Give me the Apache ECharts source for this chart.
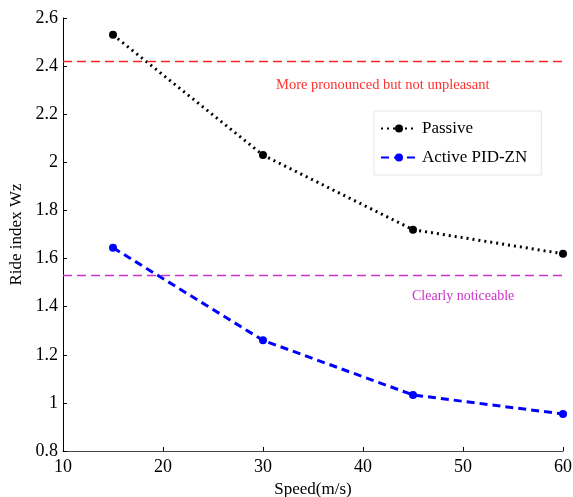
<!DOCTYPE html>
<html>
<head>
<meta charset="utf-8">
<script src="https://cdn.jsdelivr.net/npm/echarts@6/dist/echarts.min.js"></script>
<style>
  html, body { margin: 0; padding: 0; background: #fff; }
  #mychart { width: 573px; height: 497px; }
</style>
</head>
<body>
<div id="mychart"></div>
<script>
// data
var speeds = [15, 30, 45, 60]
var passive = [2.53, 2.03, 1.72, 1.62]
var activePid = [1.645, 1.26, 1.033, 0.954]
var limitPronounced = 2.42
var limitNoticeable = 1.53

var chartDom = document.getElementById('mychart')
var myChart = echarts.init(chartDom)
var font = 'Liberation Serif'

function pairs(xs, ys) {
  return xs.map(function (x, i) { return [x, ys[i]] })
}

var option = {
  animation: false,
  textStyle: { fontFamily: font },
  grid: { left: 63, right: 10, top: 18, bottom: 46, outerBoundsMode: 'none' },
  legend: {
    orient: 'vertical',
    left: 374,
    top: 111,
    width: 174,
    padding: [9, 14, 9, 6],
    itemGap: 12,
    itemWidth: 36,
    itemHeight: 10,
    borderColor: '#e6e6e6',
    borderWidth: 1,
    textStyle: { fontFamily: font, fontSize: 17, color: '#000' },
    data: ['Passive', 'Active PID-ZN']
  },
  xAxis: {
    type: 'value',
    min: 10,
    max: 60,
    interval: 10,
    name: 'Speed(m/s)',
    nameLocation: 'middle',
    nameGap: 30,
    nameTextStyle: { fontFamily: font, fontSize: 17, color: '#000' },
    axisLine: { lineStyle: { color: '#444', width: 1 } },
    axisTick: { inside: true, length: 4, lineStyle: { color: '#000' } },
    axisLabel: { fontFamily: font, fontSize: 18, color: '#000', margin: 7 },
    splitLine: { show: false }
  },
  yAxis: {
    type: 'value',
    min: 0.8,
    max: 2.6,
    interval: 0.2,
    name: 'Ride index Wz',
    nameLocation: 'middle',
    nameGap: 38,
    nameTextStyle: { fontFamily: font, fontSize: 17, color: '#000' },
    axisLine: { show: true, lineStyle: { color: '#000', width: 1 } },
    axisTick: { show: true, inside: true, length: 4, lineStyle: { color: '#000' } },
    axisLabel: {
      fontFamily: font, fontSize: 18, color: '#000', margin: 5,
      formatter: function (v) { return String(Math.round(v * 10) / 10) }
    },
    splitLine: { show: false }
  },
  series: [
    {
      name: 'Passive',
      type: 'line',
      data: pairs(speeds, passive),
      symbol: 'circle',
      symbolSize: 8,
      itemStyle: { color: '#000' },
      lineStyle: { color: '#000', width: 3, type: [2, 4] },
      markLine: {
        silent: true,
        symbol: 'none',
        label: { show: false },
        data: [{
          yAxis: limitPronounced,
          lineStyle: { color: '#ff2020', width: 1.3, type: [9, 5], opacity: 1 }
        }]
      },
      z: 3
    },
    {
      name: 'Active PID-ZN',
      type: 'line',
      data: pairs(speeds, activePid),
      symbol: 'circle',
      symbolSize: 8,
      itemStyle: { color: '#0000ff' },
      lineStyle: { color: '#0000ff', width: 3, type: [8, 5] },
      markLine: {
        silent: true,
        symbol: 'none',
        label: { show: false },
        data: [{
          yAxis: limitNoticeable,
          lineStyle: { color: '#cc33cc', width: 1.3, type: [9, 5], opacity: 1 }
        }]
      },
      z: 3
    }
  ],
  graphic: [
    {
      type: 'text',
      left: 276,
      top: 78,
      style: {
        text: 'More pronounced but not unpleasant',
        fill: '#ff3030',
        font: '14.5px "Liberation Serif"'
      }
    },
    {
      type: 'text',
      left: 412,
      top: 289,
      style: {
        text: 'Clearly noticeable',
        fill: '#cc33cc',
        font: '14px "Liberation Serif"'
      }
    }
  ]
}

myChart.setOption(option)
</script>
</body>
</html>
